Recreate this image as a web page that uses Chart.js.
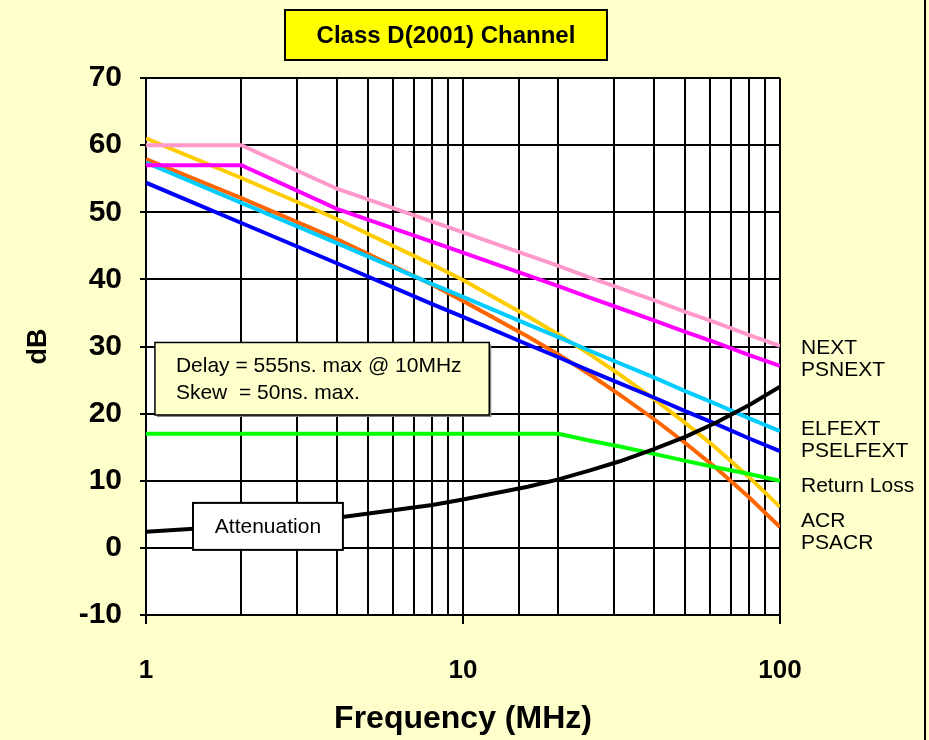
<!DOCTYPE html>
<html>
<head>
<meta charset="utf-8">
<title>Class D(2001) Channel</title>
<script src="https://cdn.jsdelivr.net/npm/chart.js@4.4.1/dist/chart.umd.min.js"></script>
<style>
  html, body { margin: 0; padding: 0; background: #FFFFCC; }
  #wrap { position: relative; width: 929px; height: 740px; }
  #chart { display: block; }
</style>
</head>
<body>
<div id="wrap"><canvas id="chart" width="929" height="740"></canvas></div>
<script>
// Frequency points (MHz) and values (dB)
const freqMHz      = [1,    2,    4,    8,    10,   16,   20,   25,   31.25, 40,   50,   62.5, 80,   100];
const nextDb       = [60,   60,   53.5, 48.6, 47.0, 43.6, 42.0, 40.3, 38.7,  36.9, 35.2, 33.6, 31.7, 30.1];
const psnextDb     = [57,   57,   50.5, 45.6, 44.0, 40.6, 39.0, 37.3, 35.7,  33.9, 32.2, 30.6, 28.7, 27.1];
const elfextDb     = [57.4, 51.4, 45.4, 39.3, 37.4, 33.3, 31.4, 29.4, 27.5,  25.4, 23.4, 21.5, 19.3, 17.4];
const pselfextDb   = [54.4, 48.4, 42.4, 36.3, 34.4, 30.3, 28.4, 26.4, 24.5,  22.4, 20.4, 18.5, 16.3, 14.4];
const returnLossDb = [17,   17,   17,   17,   17,   17,   17,   16.0, 15.1,  14.0, 13.0, 12.0, 11.0, 10.0];
const acrDb        = [61.0, 55.1, 49.0, 42.2, 39.9, 34.5, 31.8, 28.9, 25.8,  22.2, 18.7, 15.0, 10.5, 6.1];
const psacrDb      = [57.9, 52.1, 46.0, 39.2, 36.8, 31.5, 28.8, 25.9, 22.8,  19.2, 15.7, 12.0, 7.5,  3.1];
const attenDb      = [2.4,  3.3,  4.5,  6.4,  7.2,  9.1,  10.2, 11.5, 12.9,  14.7, 16.5, 18.6, 21.3, 24.0];

const xTickLabels = [1, 10, 100];
const yTicks = [-10, 0, 10, 20, 30, 40, 50, 60, 70];

const seriesNames  = ['NEXT', 'PSNEXT', 'ELFEXT', 'PSELFEXT', 'Return Loss', 'ACR', 'PSACR', 'Attenuation'];
const seriesValues = [nextDb, psnextDb, elfextDb, pselfextDb, returnLossDb, acrDb, psacrDb, attenDb];
const seriesColors = ['#FF99CC', '#FF00FF', '#00CCFF', '#0000FF', '#00FF00', '#FFCC00', '#FF6600', '#000000'];

const chartTitle = 'Class D(2001) Channel';
const noteLines = ['Delay = 555ns. max @ 10MHz', 'Skew  = 50ns. max.'];
const FONT = "'Liberation Sans', Arial, Helvetica, sans-serif";

const decorations = {
  id: 'decorations',
  beforeDraw(chart) {
    const { ctx, chartArea: a } = chart;
    ctx.save();
    ctx.fillStyle = '#FFFFFF';
    ctx.fillRect(a.left, a.top, a.right - a.left, a.bottom - a.top);
    ctx.restore();
  },
  afterDraw(chart) {
    const { ctx, chartArea: a } = chart;
    const xs = chart.scales.x, ys = chart.scales.y;
    ctx.save();

    // page edge on the right
    ctx.fillStyle = '#000';
    ctx.fillRect(924, 0, 2, 740);

    // title box
    ctx.fillStyle = '#FFFF00';
    ctx.fillRect(285, 10, 322, 50);
    ctx.lineWidth = 2;
    ctx.strokeStyle = '#000';
    ctx.strokeRect(285, 10, 322, 50);
    ctx.fillStyle = '#000';
    ctx.font = 'bold 24px ' + FONT;
    ctx.textAlign = 'center';
    ctx.textBaseline = 'middle';
    ctx.fillText(chartTitle, 446, 36);

    // delay / skew note
    const nx0 = xs.getPixelForValue(1.067), nx1 = xs.getPixelForValue(12.1);
    const ny0 = ys.getPixelForValue(30.6), ny1 = ys.getPixelForValue(19.8);
    ctx.fillStyle = '#808080';
    ctx.fillRect(nx0 + 2, ny0 + 2, nx1 - nx0, ny1 - ny0);
    ctx.fillStyle = '#FFFFCC';
    ctx.fillRect(nx0, ny0, nx1 - nx0, ny1 - ny0);
    ctx.lineWidth = 1.5;
    ctx.strokeRect(nx0, ny0, nx1 - nx0, ny1 - ny0);
    ctx.fillStyle = '#000';
    ctx.font = '21px ' + FONT;
    ctx.textAlign = 'left';
    ctx.fillText(noteLines[0], nx0 + 21, ny0 + 24);
    ctx.fillText(noteLines[1], nx0 + 21, ny0 + 51);

    // attenuation label box
    const bx0 = xs.getPixelForValue(1.407), bx1 = xs.getPixelForValue(4.18);
    const by0 = ys.getPixelForValue(6.7), by1 = ys.getPixelForValue(-0.3);
    ctx.fillStyle = '#FFFFFF';
    ctx.fillRect(bx0, by0, bx1 - bx0, by1 - by0);
    ctx.lineWidth = 2;
    ctx.strokeRect(bx0, by0, bx1 - bx0, by1 - by0);
    ctx.fillStyle = '#000';
    ctx.textAlign = 'center';
    ctx.fillText(seriesNames[7], (bx0 + bx1) / 2, (by0 + by1) / 2 + 1);

    // series names at the right end of the lines
    const labelAt = [29.8, 26.4, 17.7, 14.4, 9.2, 4.0, 0.7];
    ctx.textAlign = 'left';
    labelAt.forEach((v, i) => {
      ctx.fillText(seriesNames[i], a.right + 21, ys.getPixelForValue(v));
    });
    ctx.restore();
  }
};

new Chart(document.getElementById('chart'), {
  type: 'line',
  data: {
    datasets: seriesNames.map((name, i) => ({
      label: name,
      data: freqMHz.map((f, j) => ({ x: f, y: seriesValues[i][j] })),
      borderColor: seriesColors[i],
      borderWidth: 4,
      pointRadius: 0,
      tension: 0,
      order: name === 'Attenuation' ? 0 : i + 1,
    })),
  },
  options: {
    responsive: false,
    animation: false,
    layout: { padding: { top: 78, right: 149, left: 0, bottom: 0 } },
    plugins: { legend: { display: false }, title: { display: false }, tooltip: { enabled: false } },
    scales: {
      x: {
        type: 'logarithmic',
        min: 1,
        max: 100,
        afterFit: s => { s.height = 125; },
        grid: {
          color: '#000',
          lineWidth: 2,
          tickLength: 9,
          tickColor: c => (c.tick && xTickLabels.includes(c.tick.value) ? '#000' : 'rgba(0,0,0,0)'),
        },
        border: { color: '#000', width: 2 },
        ticks: {
          autoSkip: false,
          maxRotation: 0,
          padding: 31,
          color: '#000',
          font: { family: FONT, size: 26, weight: 'bold' },
          callback: v => (xTickLabels.includes(v) ? String(v) : ''),
        },
        title: {
          display: true,
          text: 'Frequency (MHz)',
          color: '#000',
          font: { family: FONT, size: 32, weight: 'bold' },
          padding: { top: 0, bottom: 2 },
        },
      },
      y: {
        min: -10,
        max: 70,
        afterFit: s => { s.width = 146; },
        afterBuildTicks: s => { s.ticks = yTicks.map(v => ({ value: v })); },
        grid: { color: '#000', lineWidth: 2, tickLength: 6 },
        border: { color: '#000', width: 2 },
        ticks: {
          padding: 18,
          color: '#000',
          font: { family: FONT, size: 30, weight: 'bold' },
        },
        title: {
          display: true,
          text: 'dB',
          color: '#000',
          font: { family: FONT, size: 27, weight: 'bold' },
          padding: { top: 22, bottom: 0 },
        },
      },
    },
  },
  plugins: [decorations],
});
</script>
</body>
</html>
